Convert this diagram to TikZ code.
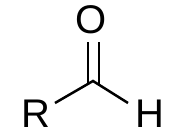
\documentclass[tikz,border=0pt]{standalone}
\usepackage{fontspec}
\setmainfont{Liberation Sans}
\begin{document}
\begin{tikzpicture}[x=1pt,y=1pt,
  atom/.style={inner sep=0pt, font=\fontsize{40}{40}\selectfont},
  bond/.style={line width=2.5pt, line cap=butt}]
\useasboundingbox (0,0) rectangle (187,137);
\node[atom] (R) at (36,23.5) {R};
\node[atom] (H) at (150,23.5) {H};
\node[atom] (O) at (91.5,117) {O};
\coordinate (C) at (93,56);
\coordinate (bl) at (55,34);
\coordinate (br) at (128,34);
\coordinate (d1t) at (88,95);
\coordinate (d1b) at (88,53.1);
\coordinate (d2t) at (99,95);
\coordinate (d2b) at (99,52.2);
\draw[bond] (bl) -- (C) -- (br);
\draw[bond] (d1t) -- (d1b);
\draw[bond] (d2t) -- (d2b);
\end{tikzpicture}
\end{document}
